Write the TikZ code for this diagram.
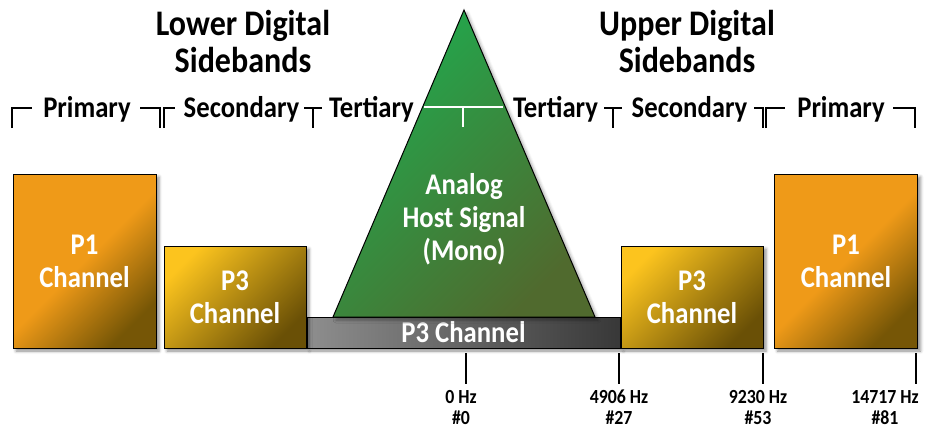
\documentclass[tikz,border=0pt]{standalone}
\usepackage{fontspec}
\setmainfont{Carlito}[FakeStretch=0.89]
\usetikzlibrary{shadows.blur}
\definecolor{pOne}{HTML}{EF9A18}
\definecolor{pOneD}{HTML}{765606}
\definecolor{pThree}{HTML}{FCC41E}
\definecolor{pThreeD}{HTML}{6A5006}
\definecolor{grnA}{HTML}{20AA4E}
\definecolor{grnB}{HTML}{506A2E}
\definecolor{grayA}{HTML}{8E8E8E}
\definecolor{grayB}{HTML}{383838}
\tikzset{
  body/.style={font=\fontsize{30}{33}\selectfont\bfseries},
  boxbase/.style={draw=black, line width=1pt, inner sep=0pt, align=center, text=white, body,
    blur shadow={shadow xshift=3pt, shadow yshift=-3pt, shadow blur radius=3pt, shadow opacity=45}},
  poneBox/.style={boxbase, minimum width=143pt, minimum height=174pt,
    top color=pOne, bottom color=pOneD, middle color=pOne, shading angle=45},
  pthreeBox/.style={boxbase, minimum width=142pt, minimum height=102pt,
    top color=pThree, bottom color=pThreeD, shading angle=45},
  barBox/.style={boxbase, minimum width=313pt, minimum height=31pt,
    left color=grayA, right color=grayB},
  brk/.style={line width=1.3pt, black},
  title/.style={font=\fontsize{36}{37}\selectfont\bfseries, align=center, anchor=base},
  lbl/.style={body, anchor=base},
  freq/.style={font=\fontsize{20}{21}\selectfont\bfseries, align=center, anchor=base},
  tick/.style={line width=1.2pt, black}
}
\begin{document}
\begin{tikzpicture}[x=1pt, y=1pt]
\useasboundingbox (0,0) rectangle (925,-429);
% titles (anchor=base is the last line's baseline)
\node[title] (lowT) at (243,-72) {Lower Digital\\Sidebands};
\node[title] (upT) at (687,-72) {Upper Digital\\Sidebands};
% gray bar
\node[barBox] (bar) at (463.5,-332.5) {P3 Channel};
% triangle
\path[draw=black, line width=1pt, top color=grnA, bottom color=grnB, shading angle=45,
  blur shadow={shadow xshift=3pt, shadow yshift=-3pt, shadow blur radius=3pt, shadow opacity=35}]
  (333,-317) -- (464,-10) -- (595,-317) -- cycle;
\node[body, text=white, align=center, anchor=base] (analog) at (464,-260) {Analog\\Host Signal\\(Mono)};
\draw[white, line width=1.3pt] (424,-107) -- (503,-107) (463,-107) -- (463,-127);
% boxes
\node[poneBox] (lp1) at (84.5,-261) {P1\\Channel};
\node[pthreeBox] (lp3) at (235,-297) {P3\\Channel};
\node[pthreeBox] (rp3) at (692,-297) {P3\\Channel};
\node[poneBox] (rp1) at (846,-261) {P1\\Channel};
% bracket labels
\node[lbl] (lprim) at (87,-117) {Primary};
\node[lbl] (lsec) at (241.5,-117) {Secondary};
\node[lbl] (lter) at (371.5,-117) {Tertiary};
\node[lbl] (rter) at (555.5,-117) {Tertiary};
\node[lbl] (rsec) at (689.5,-117) {Secondary};
\node[lbl] (rprim) at (841,-117) {Primary};
% brackets
\draw[brk] (12,-128) -- (12,-108) -- (32,-108);
\draw[brk] (140,-108) -- (160,-108) -- (160,-128);
\draw[brk] (164,-128) -- (164,-108) -- (175,-108);
\draw[brk] (304,-108) -- (322,-108) (313,-108) -- (313,-128);
\draw[brk] (604,-108) -- (622,-108) (613,-108) -- (613,-128);
\draw[brk] (754,-108) -- (763,-108) -- (763,-128);
\draw[brk] (766,-128) -- (766,-108) -- (785,-108);
\draw[brk] (893,-108) -- (915,-108) -- (915,-128);
% ticks
\draw[tick] (466,-353) -- (466,-384);
\draw[tick] (619,-353) -- (619,-384);
\draw[tick] (763,-353) -- (763,-384);
\draw[tick] (916,-353) -- (916,-384);
\node[freq] (f0) at (461,-424) {0 Hz\\\#0};
\node[freq] (f27) at (619,-424) {4906 Hz\\\#27};
\node[freq] (f53) at (758,-424) {9230 Hz\\\#53};
\node[freq] (f81) at (885,-424) {14717 Hz\\\#81};
\end{tikzpicture}
\end{document}
